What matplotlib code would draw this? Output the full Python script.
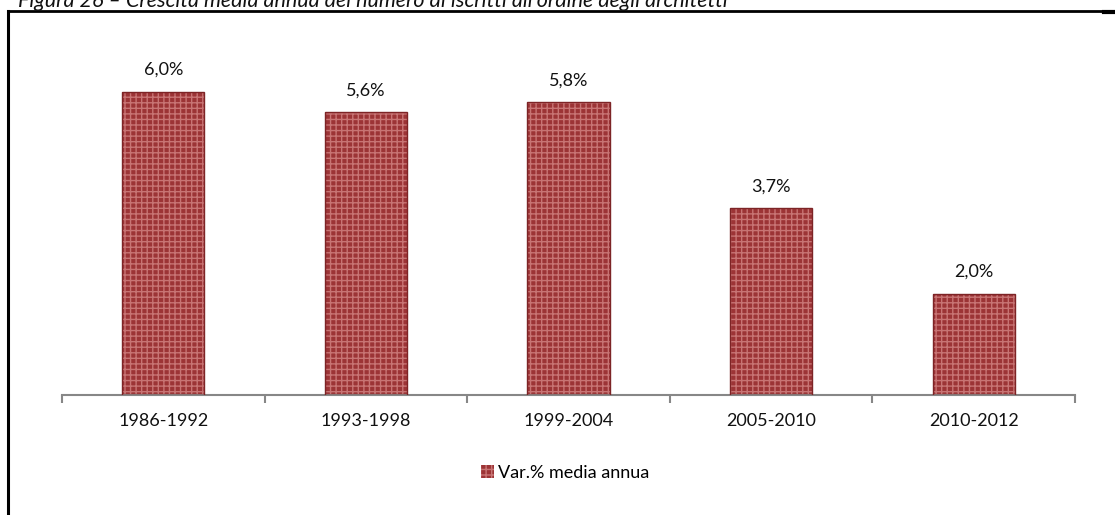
import matplotlib
matplotlib.use("Agg")
import matplotlib.pyplot as plt
from matplotlib.lines import Line2D
from matplotlib.patches import Rectangle

periods = ["1986-1992", "1993-1998", "1999-2004", "2005-2010", "2010-2012"]
values = [6.0, 5.6, 5.8, 3.7, 2.0]
value_labels = ["6,0%", "5,6%", "5,8%", "3,7%", "2,0%"]
legend_label = "Var.% media annua"
title = "Figura 26 – Crescita media annua del numero di iscritti all'ordine degli architetti"

plt.rcParams['font.family'] = ['Lato', 'DejaVu Sans']
plt.rcParams['hatch.linewidth'] = 1.0

W, H = 1115, 515
fig = plt.figure(figsize=(W / 100, H / 100), dpi=100)

ax = fig.add_axes([62 / W, (H - 395) / H, (1075 - 62) / W, 353.5 / H])
x = list(range(len(periods)))
face = '#9c3436'
hatch_col = '#c87474'
ax.bar(x, values, width=0.405, color=face, edgecolor=hatch_col, linewidth=0,
       hatch='+++', zorder=2)
ax.bar(x, values, width=0.405, facecolor='none', edgecolor='#7d2426',
       linewidth=1.0, zorder=3)
for xi, v, lab in zip(x, values, value_labels):
    ax.annotate(lab, (xi, v), xytext=(0, 10), textcoords='offset points',
                ha='center', va='bottom', fontsize=13, color='#111111')

ax.set_xlim(-0.5, len(periods) - 0.5)
ax.set_ylim(0, 7)
for s in ['top', 'right', 'left']:
    ax.spines[s].set_visible(False)
ax.spines['bottom'].set_color('#878787')
ax.spines['bottom'].set_linewidth(1.5)
ax.set_yticks([])
ax.set_xticks(x)
ax.set_xticklabels(periods, fontsize=13, color='#111111')
ax.tick_params(axis='x', length=0, pad=13)
ax.set_xticks([i - 0.5 for i in range(len(periods) + 1)], minor=True)
ax.tick_params(axis='x', which='minor', length=6, width=1.5, color='#878787')

# legend
handle = Rectangle((0, 0), 1, 1, facecolor=face, edgecolor=hatch_col, hatch='+++', linewidth=0)
fig.legend([handle], [legend_label], loc='center', bbox_to_anchor=(565 / W, 1 - 473 / H),
           frameon=False, fontsize=13, handlelength=0.7, handleheight=0.7,
           handletextpad=0.2)

# frame
fig.add_artist(Line2D([7.5 / W, 1], [1 - 10.5 / H, 1 - 10.5 / H], color='black', lw=2))
fig.add_artist(Line2D([8 / W, 8 / W], [0, 1 - 10.5 / H], color='black', lw=2.2))
fig.add_artist(Line2D([1104 / W, 1], [1 - 12 / H, 1 - 12 / H], color='black', lw=3))

# cut-off title (top part lies outside the image, as in the reference)
fig.text(18 / W, 1 - 7 / H, title, fontsize=15.5, style='italic', ha='left',
         va='baseline', color='#111111')

fig.savefig('out.png', dpi=100)
